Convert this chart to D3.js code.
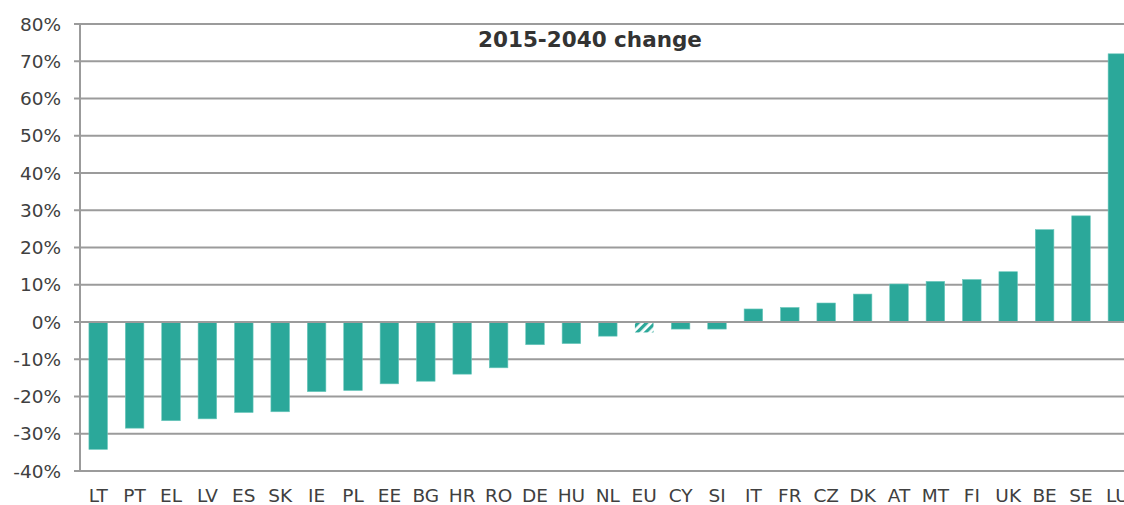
<!DOCTYPE html>
<html>
<head>
<meta charset="utf-8">
<script src="https://cdn.jsdelivr.net/npm/d3@7"></script>
<style>
  html, body { margin: 0; padding: 0; background: #fff; }
  svg { display: block; }
  text { font-family: "DejaVu Sans", Verdana, sans-serif; }
</style>
</head>
<body>
<svg id="chart" width="1124" height="505"></svg>
<script>
const categories = ["LT","PT","EL","LV","ES","SK","IE","PL","EE","BG","HR","RO","DE","HU","NL","EU","CY","SI","IT","FR","CZ","DK","AT","MT","FI","UK","BE","SE","LU"];
const values = [-34.2,-28.5,-26.5,-26.0,-24.3,-24.1,-18.7,-18.4,-16.6,-15.9,-14.0,-12.3,-6.1,-5.8,-3.8,-2.8,-1.9,-1.9,3.5,3.9,5.1,7.5,10.2,10.9,11.4,13.5,24.8,28.5,72.0];
const highlighted = ["EU"];
const yTicks = [-40,-30,-20,-10,0,10,20,30,40,50,60,70,80];
const title = "2015-2040 change";

const svg = d3.select("#chart");
const W = 1124, H = 505;
const plot = { left: 80, right: 1135.6, top: 24, bottom: 471 };
const barColor = "#2ba89a";
const gridColor = "#9b9b9b";
const textColor = "#404040";

const x = d3.scaleBand().domain(categories).range([plot.left, plot.right])
  .paddingInner(0.49).paddingOuter(0.245);
const y = d3.scaleLinear().domain([-40, 80]).range([plot.bottom, plot.top]);

// hatch pattern
const defs = svg.append("defs");
const pat = defs.append("pattern").attr("id", "hatch")
  .attr("patternUnits", "userSpaceOnUse").attr("width", 6).attr("height", 6)
  .attr("patternTransform", "rotate(45)");
pat.append("rect").attr("width", 6).attr("height", 6).attr("fill", "#fff");
pat.append("rect").attr("width", 3.2).attr("height", 6).attr("fill", barColor);

// gridlines
svg.append("g").selectAll("line").data(yTicks).join("line")
  .attr("x1", plot.left - 6).attr("x2", W)
  .attr("y1", d => y(d)).attr("y2", d => y(d))
  .attr("stroke", gridColor).attr("stroke-width", 2);

// y labels
svg.append("g").selectAll("text").data(yTicks).join("text")
  .attr("x", 61).attr("y", d => y(d)).attr("dy", "0.36em")
  .attr("text-anchor", "end").attr("fill", textColor)
  .attr("font-size", 18.5)
  .text(d => d + "%");

// bars
svg.append("g").selectAll("rect").data(categories).join("rect")
  .attr("x", d => x(d))
  .attr("width", x.bandwidth())
  .attr("y", (d, i) => y(Math.max(0, values[i])))
  .attr("height", (d, i) => Math.abs(y(values[i]) - y(0)))
  .attr("fill", d => highlighted.includes(d) ? "url(#hatch)" : barColor)
  .attr("stroke", d => highlighted.includes(d) ? "none" : "#6cc8bd")
  .attr("stroke-width", 0.6);

// zero line over bars
svg.append("line")
  .attr("x1", plot.left - 6).attr("x2", W)
  .attr("y1", y(0)).attr("y2", y(0))
  .attr("stroke", gridColor).attr("stroke-width", 2);

// y axis line
svg.append("line")
  .attr("x1", plot.left).attr("x2", plot.left)
  .attr("y1", y(80)).attr("y2", y(-40) + 1)
  .attr("stroke", gridColor).attr("stroke-width", 2);

// x labels
svg.append("g").selectAll("text").data(categories).join("text")
  .attr("x", d => x(d) + x.bandwidth() / 2).attr("y", 502)
  .attr("text-anchor", "middle").attr("fill", textColor)
  .attr("font-size", 18.5)
  .text(d => d);

// title
svg.append("text")
  .attr("x", 590).attr("y", 47)
  .attr("text-anchor", "middle").attr("fill", "#333")
  .attr("font-size", 21.5).attr("font-weight", "bold")
  .text(title);
</script>
</body>
</html>
